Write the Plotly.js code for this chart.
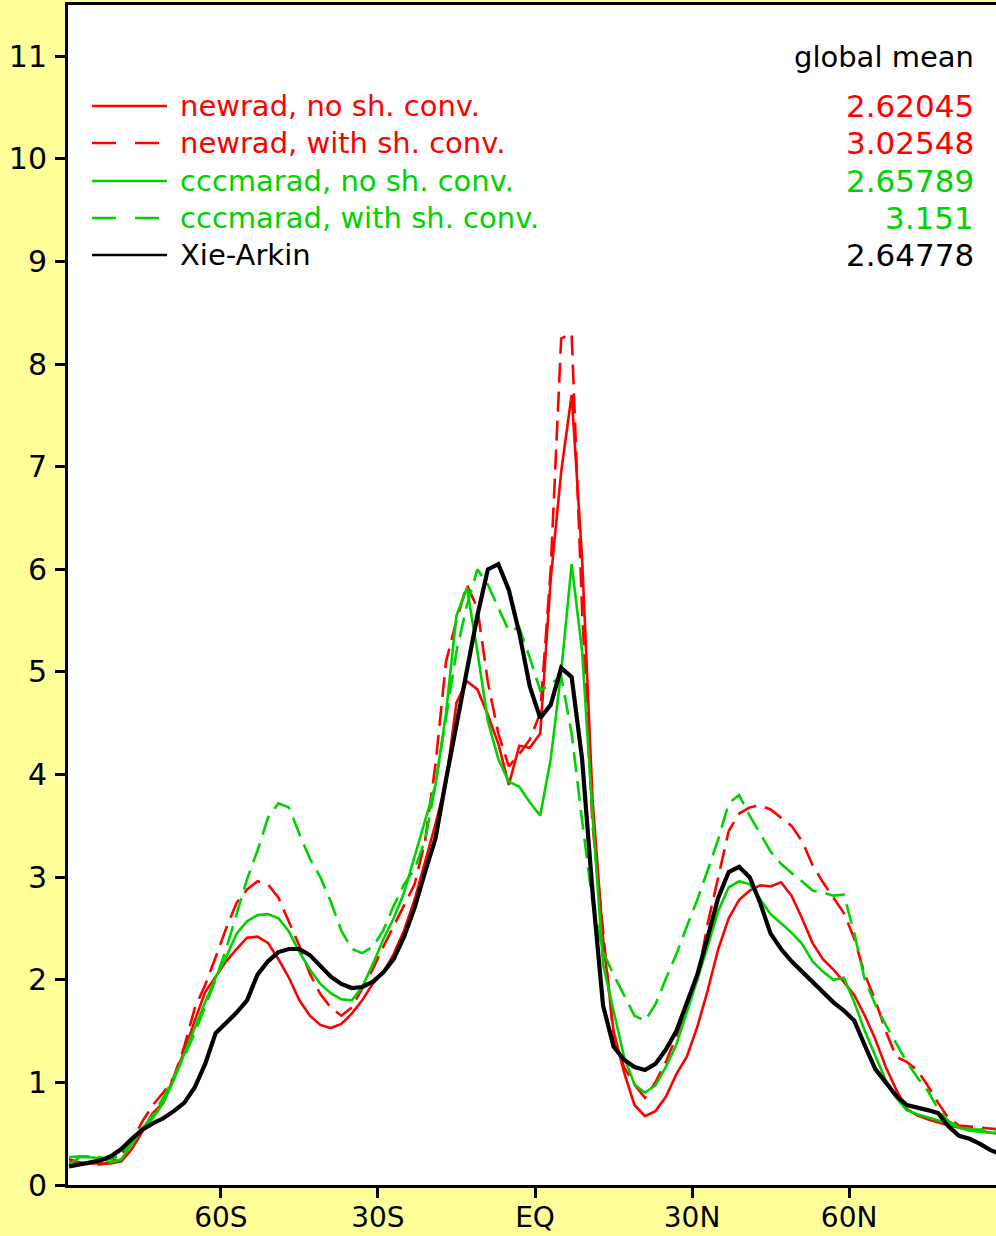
<!DOCTYPE html>
<html><head><meta charset="utf-8">
<script src="https://cdn.plot.ly/plotly-3.0.1.min.js"></script>
<style>
html,body{margin:0;padding:0;background:#ffff99;overflow:hidden;width:996px;height:1236px}
#chart{width:1002px;height:1236px}
</style>
</head><body><div id="chart"></div>
<script>
const latitude = [-89,-87,-85,-83,-81,-79,-77,-75,-73,-71,-69,-67,-65,-63,-61,-59,-57,-55,-53,-51,-49,-47,-45,-43,-41,-39,-37,-35,-33,-31,-29,-27,-25,-23,-21,-19,-17,-15,-13,-11,-9,-7,-5,-3,-1,1,3,5,7,9,11,13,15,17,19,21,23,25,27,29,31,33,35,37,39,41,43,45,47,49,51,53,55,57,59,61,63,65,67,69,71,73,75,77,79,81,83,85,87,89];

const newradNoShConv = [0.22,0.22,0.21,0.21,0.21,0.23,0.35,0.52,0.7,0.8,1.05,1.3,1.6,1.88,2.03,2.18,2.3,2.41,2.42,2.36,2.2,2.02,1.8,1.65,1.56,1.53,1.57,1.67,1.8,1.96,2.07,2.25,2.48,2.78,3.15,3.52,3.92,4.7,4.91,4.83,4.58,4.3,3.9,4.28,4.26,4.4,5.9,6.95,7.7,6.1,3.75,2.4,1.5,1.1,0.78,0.67,0.72,0.86,1.08,1.25,1.54,1.9,2.3,2.6,2.78,2.87,2.92,2.91,2.95,2.82,2.6,2.36,2.2,2.1,1.98,1.85,1.65,1.42,1.15,0.93,0.74,0.68,0.64,0.61,0.58,0.56,0.54,0.53,0.51,0.5];

const newradWithShConv = [0.25,0.22,0.2,0.2,0.22,0.3,0.42,0.62,0.78,0.9,1.05,1.35,1.72,1.95,2.22,2.5,2.75,2.88,2.96,2.93,2.8,2.56,2.33,2.06,1.86,1.73,1.65,1.73,1.92,2.1,2.32,2.52,2.73,2.93,3.35,4.1,5.1,5.5,5.85,5.62,4.9,4.4,4.08,4.2,4.34,4.6,6.0,8.25,8.3,5.6,3.5,2.5,1.45,1.15,0.98,0.85,1.0,1.2,1.45,1.72,2.0,2.55,3.0,3.45,3.62,3.68,3.7,3.66,3.58,3.5,3.35,3.12,2.95,2.8,2.65,2.4,2.05,1.8,1.5,1.25,1.2,1.12,0.97,0.8,0.65,0.58,0.57,0.56,0.55,0.54];

const cccmaradNoShConv = [0.2,0.27,0.27,0.26,0.22,0.25,0.4,0.55,0.65,0.8,1.02,1.28,1.53,1.78,2.02,2.22,2.45,2.57,2.63,2.64,2.6,2.47,2.27,2.1,1.96,1.87,1.81,1.8,1.93,2.15,2.39,2.6,2.85,3.2,3.55,3.9,4.6,5.55,5.82,5.2,4.52,4.15,3.93,3.88,3.73,3.6,4.15,5.0,6.05,5.2,3.6,2.15,1.7,1.25,0.98,0.9,0.97,1.15,1.37,1.68,2.0,2.33,2.67,2.9,2.96,2.93,2.78,2.64,2.55,2.46,2.35,2.18,2.08,2.0,2.02,1.78,1.5,1.26,1.02,0.85,0.73,0.69,0.66,0.63,0.6,0.56,0.53,0.52,0.51,0.5];

const cccmaradWithShConv = [0.27,0.28,0.28,0.27,0.25,0.3,0.42,0.55,0.68,0.85,1.05,1.25,1.48,1.74,2.0,2.3,2.64,2.98,3.26,3.58,3.72,3.68,3.42,3.18,3.0,2.76,2.48,2.3,2.26,2.32,2.48,2.72,2.93,3.08,3.36,3.9,4.55,5.2,5.65,6.0,5.85,5.62,5.4,5.43,5.14,4.82,4.88,4.96,4.4,3.55,2.75,2.27,2.05,1.85,1.65,1.6,1.76,2.01,2.25,2.52,2.78,3.07,3.37,3.72,3.8,3.6,3.42,3.25,3.13,3.04,2.96,2.87,2.85,2.82,2.83,2.45,2.0,1.76,1.56,1.38,1.2,1.05,0.92,0.74,0.62,0.57,0.54,0.54,0.54,0.53];

const xieArkin = [0.18,0.2,0.22,0.24,0.28,0.35,0.45,0.54,0.6,0.65,0.72,0.8,0.95,1.18,1.48,1.58,1.68,1.8,2.05,2.18,2.27,2.3,2.3,2.24,2.14,2.03,1.96,1.92,1.93,1.98,2.07,2.2,2.42,2.7,3.05,3.38,3.95,4.5,5.0,5.55,6.0,6.05,5.8,5.38,4.86,4.55,4.68,5.04,4.95,4.15,2.85,1.75,1.35,1.22,1.15,1.12,1.18,1.32,1.5,1.78,2.05,2.42,2.8,3.05,3.1,3.0,2.75,2.45,2.3,2.18,2.08,1.97,1.88,1.78,1.7,1.6,1.36,1.13,1.0,0.87,0.78,0.76,0.73,0.7,0.57,0.48,0.45,0.4,0.34,0.3];

const seriesNames = ["newrad, no sh. conv.","newrad, with sh. conv.","cccmarad, no sh. conv.","cccmarad, with sh. conv.","Xie-Arkin"];
const globalMeans = ["2.62045","3.02548","2.65789","3.151","2.64778"];
const globalMeanTitle = "global mean";
const xTickVals = [-60,-30,0,30,60];
const xTickText = ["60S","30S","EQ","30N","60N"];
const yTickVals = [0,1,2,3,4,5,6,7,8,9,10,11];

const seriesData = [newradNoShConv, newradWithShConv, cccmaradNoShConv, cccmaradWithShConv, xieArkin];
const RED = "#ff0000", GREEN = "#00d200", BLACK = "#000000";
const seriesColors = [RED, RED, GREEN, GREEN, BLACK];
const seriesDash = ["solid","20px,9px","solid","20px,9px","solid"];
const seriesWidth = [2.6,2.6,2.6,2.6,4.2];

const traces = seriesData.map((vals,i)=>({
  type:"scatter", mode:"lines", x:latitude, y:vals, name:seriesNames[i],
  line:{color:seriesColors[i], width:seriesWidth[i], dash:seriesDash[i]},
  hoverinfo:"skip"
}));

const FONT = "DejaVu Sans";
const plotH = 1180, plotW = 934;
function py(p){ return (1185 - p)/plotH; }
function px(p){ return (p - 68)/plotW; }
const rowY = [106,143,181,218,255];

const shapes = [], annotations = [];
seriesNames.forEach((nm,i)=>{
  shapes.push({type:"line", xref:"paper", yref:"paper", x0:px(92), x1:px(167), y0:py(rowY[i]), y1:py(rowY[i]),
    line:{color:seriesColors[i], width:2.5, dash:seriesDash[i]==="solid"?"solid":"24px,19px"}});
  annotations.push({xref:"paper", yref:"paper", x:px(178), y:py(rowY[i]), xanchor:"left", yanchor:"middle",
    text:nm, showarrow:false, font:{family:FONT, size:29, color:seriesColors[i]}});
  annotations.push({xref:"paper", yref:"paper", x:px(976), y:py(rowY[i]), xanchor:"right", yanchor:"middle",
    text:globalMeans[i], showarrow:false, font:{family:FONT, size:31, color:seriesColors[i]}});
});
annotations.push({xref:"paper", yref:"paper", x:px(976), y:py(57), xanchor:"right", yanchor:"middle",
  text:globalMeanTitle, showarrow:false, font:{family:FONT, size:29, color:BLACK}});

const axisCommon = {showline:true, linewidth:3, linecolor:BLACK, mirror:true, showgrid:false, zeroline:false,
  ticks:"outside", ticklen:10, tickwidth:3, tickcolor:BLACK, tickfont:{family:FONT, size:30, color:BLACK}};

const layout = {
  width:1002, height:1236,
  margin:{l:68, r:0, t:5, b:51, pad:0},
  paper_bgcolor:"#ffff99", plot_bgcolor:"#ffffff",
  showlegend:false,
  xaxis:Object.assign({}, axisCommon, {range:[-89.2,89.2], tickmode:"array", tickvals:xTickVals, ticktext:xTickText,
    ticklabelstandoff:-5, tickfont:{family:FONT, size:28, color:BLACK}}),
  yaxis:Object.assign({}, axisCommon, {range:[0,11.5], tickmode:"array", tickvals:yTickVals, ticklabelstandoff:2}),
  shapes:shapes, annotations:annotations
};
Plotly.newPlot("chart", traces, layout, {staticPlot:true, displayModeBar:false});
</script></body></html>
